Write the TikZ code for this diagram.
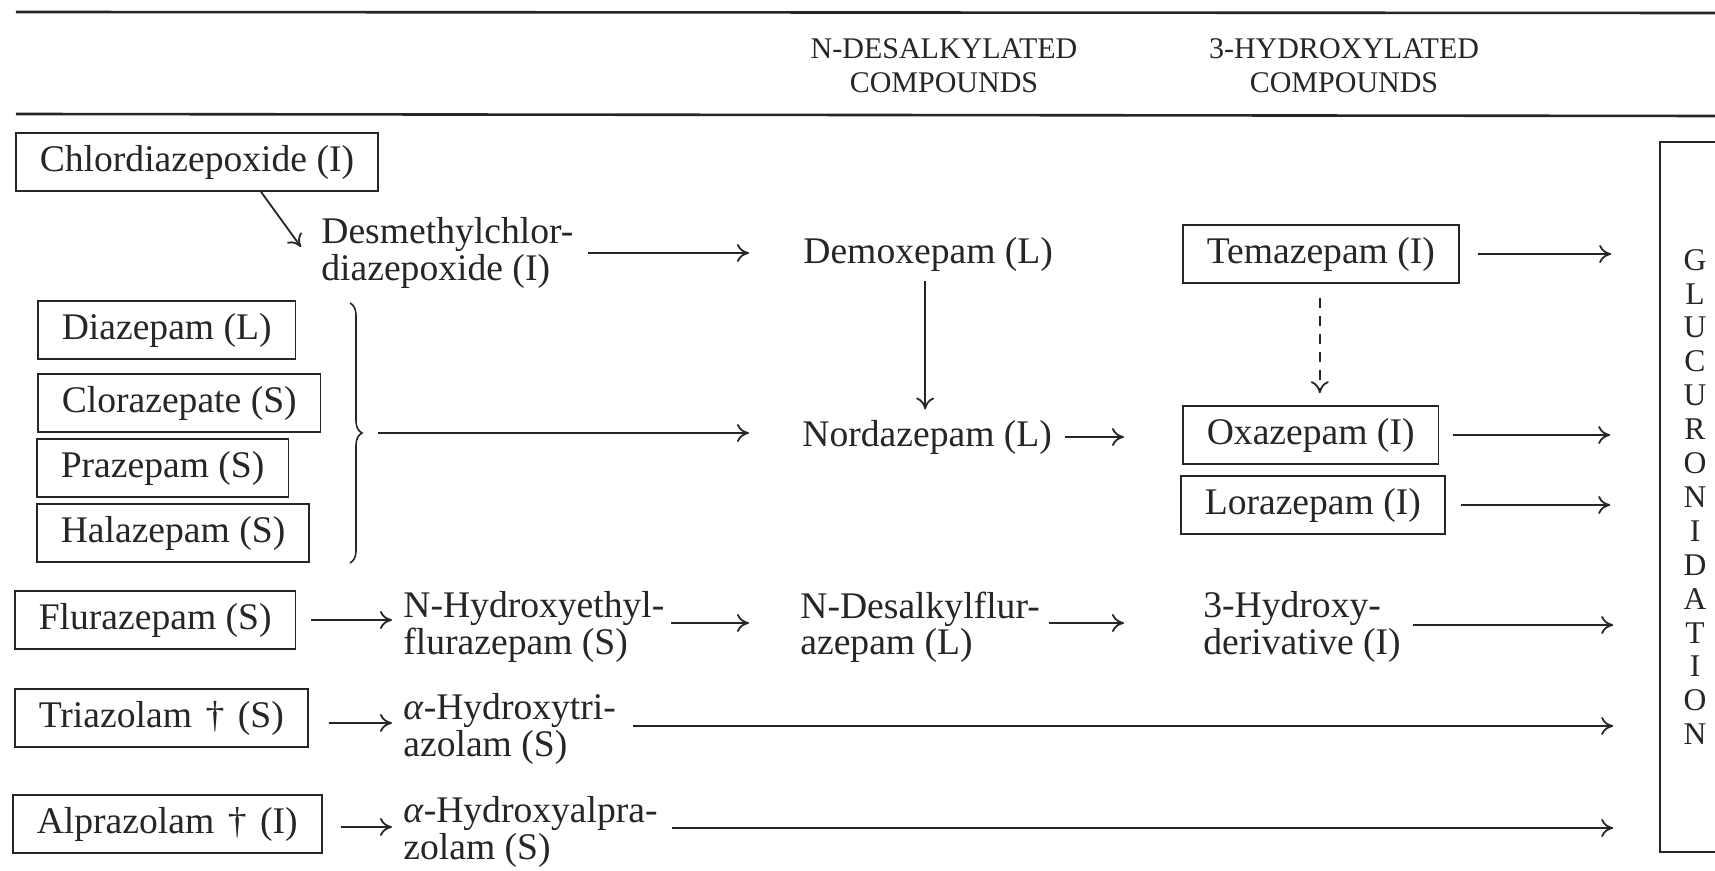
\documentclass[tikz,border=0pt]{standalone}
\usepackage{fontspec}
\setmainfont{Liberation Serif}
\usetikzlibrary{arrows.meta,calc,decorations.pathreplacing}
\definecolor{ink}{HTML}{262626}
\begin{document}
\begin{tikzpicture}[x=0.5pt,y=-0.5pt,
  txt/.style={font=\fontsize{18.8pt}{17pt}\selectfont, inner sep=0pt, align=left, anchor=west, text=ink},
  box/.style={txt, draw=ink, line width=0.8pt, inner xsep=12pt, inner ysep=0pt, minimum height=29pt},
  arr/.style={draw=ink, line width=0.9pt, -{To[length=6pt,width=9pt]}},
  hdr/.style={font=\fontsize{15pt}{17pt}\selectfont, align=center, inner sep=0pt, text=ink},
  gbox/.style={draw=ink, line width=0.8pt, minimum width=35pt, minimum height=355pt, inner sep=0pt,
    font=\fontsize{15.8pt}{16.95pt}\selectfont, align=center, text=ink},
  rule/.style={draw=ink, line width=1.3pt},
]
\useasboundingbox (0,0) rectangle (1715,871);
\clip (0,0) rectangle (1715,871);
\fill[white] (0,0) rectangle (1715,871);

% rules
\draw[rule] (16,12) -- (1715,13);
\draw[rule] (16,114) -- (1715,116);

% headers
\node[hdr] (h1) at (944,66) {N-DESALKYLATED\\COMPOUNDS};
\node[hdr] (h2) at (1344,66) {3-HYDROXYLATED\\COMPOUNDS};

% nodes
\node[box] (chl) at (15,162) {Chlordiazepoxide (I)};
\node[txt] (desm) at (321,253) {Desmethylchlor-\\diazepoxide (I)};
\node[txt] (demox) at (803,254) {Demoxepam (L)};
\node[box] (tema) at (1182,254) {Temazepam (I)};
\node[box] (diaz) at (37,330) {Diazepam (L)};
\node[box] (cloraz) at (37,403) {Clorazepate (S)};
\node[box] (praz) at (36,468) {Prazepam (S)};
\node[box] (hala) at (36,533) {Halazepam (S)};
\node[txt] (nord) at (802,437) {Nordazepam (L)};
\node[box] (oxa) at (1182,435) {Oxazepam (I)};
\node[box] (lora) at (1180,505) {Lorazepam (I)};
\node[box] (flu) at (14,620) {Flurazepam (S)};
\node[txt] (nhyd) at (403,627) {N-Hydroxyethyl-\\flurazepam (S)};
\node[txt] (ndes) at (800,627) {N-Desalkylflur-\\azepam (L)};
\node[txt] (hyd3) at (1203,627) {3-Hydroxy-\\derivative (I)};
\node[box] (tria) at (14,718) {Triazolam\hspace{0.36em}†\hspace{0.36em}(S)};
\node[txt] (ahtri) at (403,729) {\textit{α}-Hydroxytri-\\azolam (S)};
\node[box] (alp) at (12,824) {Alprazolam\hspace{0.36em}†\hspace{0.36em}(I)};
\node[txt] (ahalp) at (403,832) {\textit{α}-Hydroxyalpra-\\zolam (S)};
\node[gbox] (gluc) at (1695,497) {G\\L\\U\\C\\U\\R\\O\\N\\I\\D\\A\\T\\I\\O\\N};

% brace
\draw[draw=ink, line width=0.8pt, decorate, decoration={brace, amplitude=6pt}] (350,303) -- (350,563);
\coordinate (bt) at (362,433);

% connectors
\draw[arr] ($(chl.south west)+(246,0)$) -- ($(desm.west)+(-20,-6)$);
\draw[arr] ($(desm.east)+(14,0)$) -- ($(demox.west |- desm.east)+(-54,0)$);
\draw[arr] ($(demox.south)+(-3,10)$) -- ($(demox.south |- nord.north)+(-3,-10)$);
\draw[arr, dash pattern=on 5pt off 4pt] ($(tema.south)+(-1,14)$) -- ($(tema.south |- oxa.north)+(-1,-12)$);
\draw[arr] ($(tema.east)+(18,0)$) -- ($(gluc.west |- tema.east)+(-48,0)$);
\draw[arr] ($(bt)+(16,0)$) -- ($(nord.west |- bt)+(-53,0)$);
\draw[arr] ($(nord.east)+(13,0)$) -- ($(oxa.west |- nord.east)+(-58,0)$);
\draw[arr] ($(oxa.east)+(14,0)$) -- ($(gluc.west |- oxa.east)+(-49,0)$);
\draw[arr] ($(lora.east)+(15,0)$) -- ($(gluc.west |- lora.east)+(-49,0)$);
\draw[arr] ($(flu.east)+(15,0)$) -- ($(nhyd.west |- flu.east)+(-11,0)$);
\draw[arr] ($(nhyd.east)+(6,-4)$) -- ($(ndes.west)+(-51,-4)$);
\draw[arr] ($(ndes.east)+(9,-4)$) -- ($(hyd3.west)+(-79,-4)$);
\draw[arr] ($(hyd3.east)+(12,-2)$) -- ($(gluc.west |- hyd3.east)+(-46,-2)$);
\draw[arr] ($(tria.east)+(20,5)$) -- ($(ahtri.west |- tria.east)+(-11,5)$);
\draw[arr] ($(ahtri.east)+(17,-3)$) -- ($(gluc.west |- ahtri.east)+(-46,-3)$);
\draw[arr] ($(alp.east)+(18,3)$) -- ($(ahalp.west |- alp.east)+(-11,3)$);
\draw[arr] ($(ahalp.east)+(14,-4)$) -- ($(gluc.west |- ahalp.east)+(-46,-4)$);
\end{tikzpicture}
\end{document}
